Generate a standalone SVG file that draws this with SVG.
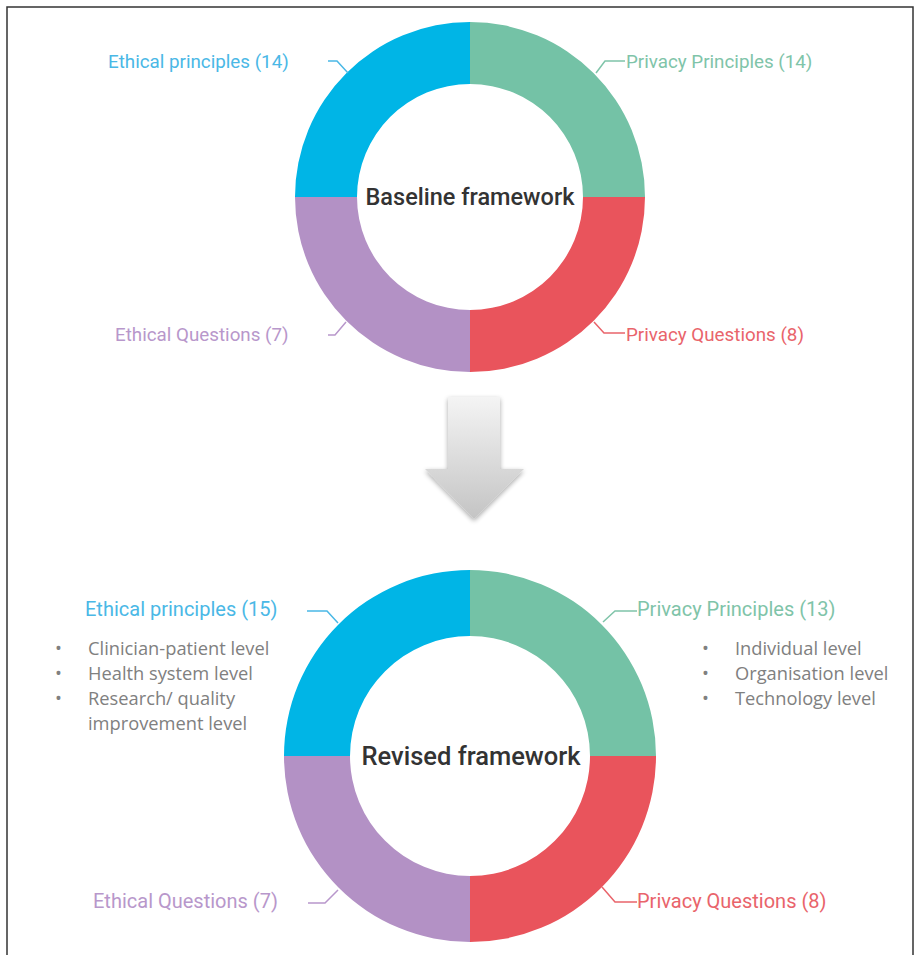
<svg xmlns="http://www.w3.org/2000/svg" width="920" height="955" viewBox="0 0 920 955">
<defs>
<linearGradient id="ag" x1="0" y1="0" x2="0" y2="1">
<stop offset="0" stop-color="#f4f4f4"/>
<stop offset="1" stop-color="#c4c4c4"/>
</linearGradient>
<filter id="sh" x="-30%" y="-30%" width="160%" height="160%">
<feGaussianBlur in="SourceAlpha" stdDeviation="2.5"/>
<feOffset dx="0" dy="2" result="b"/>
<feComponentTransfer><feFuncA type="linear" slope="0.35"/></feComponentTransfer>
<feMerge><feMergeNode/><feMergeNode in="SourceGraphic"/></feMerge>
</filter>
</defs>
<style>
.lbl{font-family:Roboto,"Liberation Sans",sans-serif;font-size:18.8px}
.lbl2{font-family:Roboto,"Liberation Sans",sans-serif;font-size:20px}
.title{font-family:Roboto,"Liberation Sans",sans-serif;font-weight:500;fill:#333}
.bul{font-family:"Open Sans","Liberation Sans",sans-serif;font-size:18.3px;fill:#808080}
.b{fill:#00b5e6}.g{fill:#74c2a6}.r{fill:#e9545c}.p{fill:#b391c5}
.tb{fill:#4ab8e6}.tg{fill:#7fc4a9}.tr{fill:#e9646b}.tp{fill:#b897cb}
.ln{fill:none;stroke-width:1.5}
</style>
<rect x="0" y="0" width="920" height="955" fill="#fff"/>
<path d="M7 960 V7 H913 V960" fill="none" stroke="#333" stroke-width="1.5"/>

<g id="baseline">
<path class="b" d="M295 197 A175 175 0 0 1 470 22 L470 84 A113 113 0 0 0 357 197 Z"/>
<path class="g" d="M470 22 A175 175 0 0 1 645 197 L583 197 A113 113 0 0 0 470 84 Z"/>
<path class="r" d="M645 197 A175 175 0 0 1 470 372 L470 310 A113 113 0 0 0 583 197 Z"/>
<path class="p" d="M470 372 A175 175 0 0 1 295 197 L357 197 A113 113 0 0 0 470 310 Z"/>
<text class="title" x="470" y="205" font-size="23.5" text-anchor="middle">Baseline framework</text>
</g>
<g id="top-labels">
<text class="lbl tb" x="108" y="68">Ethical principles (14)</text>
<text class="lbl tg" x="626" y="68">Privacy Principles (14)</text>
<text class="lbl tp" x="115" y="341">Ethical Questions (7)</text>
<text class="lbl tr" x="626" y="341">Privacy Questions (8)</text>
</g>

<g id="arrow">
<path d="M448 397 H500 V469 H524 L474 519 L425 469 H448 Z" fill="url(#ag)" filter="url(#sh)"/>
</g>

<g id="revised">
<path class="b" d="M284 756 A186 186 0 0 1 470 570 L470 636 A120 120 0 0 0 350 756 Z"/>
<path class="g" d="M470 570 A186 186 0 0 1 656 756 L590 756 A120 120 0 0 0 470 636 Z"/>
<path class="r" d="M656 756 A186 186 0 0 1 470 942 L470 876 A120 120 0 0 0 590 756 Z"/>
<path class="p" d="M470 942 A186 186 0 0 1 284 756 L350 756 A120 120 0 0 0 470 876 Z"/>
<text class="title" x="471" y="765" font-size="25.5" text-anchor="middle">Revised framework</text>
</g>
<g id="bottom-labels">
<text class="lbl2 tb" x="85" y="616">Ethical principles (15)</text>
<text class="lbl2 tg" x="637" y="616">Privacy Principles (13)</text>
<text class="lbl2 tp" x="93" y="908">Ethical Questions (7)</text>
<text class="lbl2 tr" x="637" y="908">Privacy Questions (8)</text>
</g>
<g id="ethical-list">
<text class="bul" x="55" y="655">•</text>
<text class="bul" x="88" y="655">Clinician-patient level</text>
<text class="bul" x="55" y="680">•</text>
<text class="bul" x="88" y="680">Health system level</text>
<text class="bul" x="55" y="705">•</text>
<text class="bul" x="88" y="705">Research/ quality</text>
<text class="bul" x="88" y="730">improvement level</text>
</g>
<g id="privacy-list">
<text class="bul" x="702" y="655">•</text>
<text class="bul" x="735" y="655">Individual level</text>
<text class="bul" x="702" y="680">•</text>
<text class="bul" x="735" y="680">Organisation level</text>
<text class="bul" x="702" y="705">•</text>
<text class="bul" x="735" y="705">Technology level</text>
</g>

<g id="connectors">
<path class="ln" stroke="#4ab8e6" d="M328 61 H337 L348 73"/>
<path class="ln" stroke="#7fc4a9" d="M596 73 L605 61 H625"/>
<path class="ln" stroke="#b897cb" d="M328 335 H335 L346 322"/>
<path class="ln" stroke="#e9646b" d="M594 322 L604 333 H625"/>
<path class="ln" stroke="#4ab8e6" d="M307 611 H327 L338 623"/>
<path class="ln" stroke="#7fc4a9" d="M603 622 L615 611 H637"/>
<path class="ln" stroke="#b897cb" d="M308 903 H325 L338 890"/>
<path class="ln" stroke="#e9646b" d="M602 887 L615 902 H637"/>
</g>
</svg>
